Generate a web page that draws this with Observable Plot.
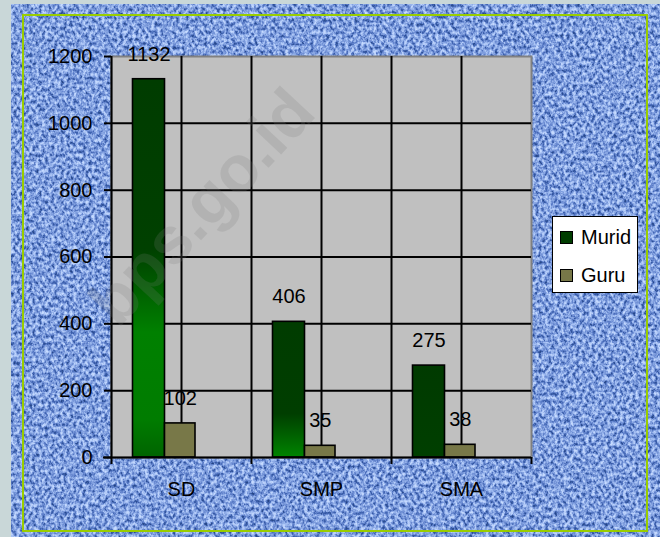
<!DOCTYPE html>
<html>
<head>
<meta charset="utf-8">
<script src="https://cdn.jsdelivr.net/npm/d3@7"></script>
<script src="https://cdn.jsdelivr.net/npm/@observablehq/plot@0.6"></script>
<style>
  html, body { margin: 0; padding: 0; background: #c9d7d8; }
  #wrap { position: relative; width: 660px; height: 537px; overflow: hidden; font-family: "Liberation Sans", Arial, sans-serif; }
  #bg { position: absolute; left: 11px; top: 4px; }
  #border { position: absolute; left: 22px; top: 14px; width: 622px; height: 514px; border: 2px solid #99cc00; }
  #chart { position: absolute; left: 0; top: 0; }
  #legend { position: absolute; left: 552px; top: 216px; width: 84px; height: 75px; background: #fff; border: 1.5px solid #000; }
  .row { position: absolute; left: 7px; display: flex; align-items: center; font-size: 20px; color: #000; }
  .sw { width: 11px; height: 11px; border: 1px solid #000; margin-right: 8px; }
  #wm { position: absolute; left: 0; top: 0; pointer-events: none; }
</style>
</head>
<body>
<div id="wrap">
  <svg id="bg" width="649" height="533">
    <filter id="denim" x="0" y="0" width="100%" height="100%" color-interpolation-filters="sRGB">
      <feTurbulence type="fractalNoise" baseFrequency="0.32 0.26" numOctaves="3" seed="7"/>
      <feColorMatrix type="matrix" values="1 0 0 0 0  1 0 0 0 0  1 0 0 0 0  0 0 0 0 1"/>
      <feComponentTransfer>
        <feFuncR type="table" tableValues="0.15 0.15 0.17 0.24 0.38 0.5 0.62 0.72 0.78 0.78 0.78"/>
        <feFuncG type="table" tableValues="0.27 0.27 0.3 0.38 0.51 0.62 0.73 0.81 0.86 0.86 0.86"/>
        <feFuncB type="table" tableValues="0.52 0.52 0.56 0.68 0.8 0.87 0.94 0.98 1 1 1"/>
      </feComponentTransfer>
    </filter>
    <rect width="100%" height="100%" fill="#7090cc" filter="url(#denim)"/>
  </svg>
  <div id="border"></div>
  <div id="chart"></div>
  <svg id="wm" width="660" height="537">
    <text x="218" y="222" transform="rotate(-47 218 222)" text-anchor="middle" font-family="Liberation Sans, Arial, sans-serif" font-weight="bold" font-size="66" fill="#7f7f7f" fill-opacity="0.2">bps.go.id</text>
  </svg>
  <div id="legend">
    <div class="row" style="top:9px;"><div class="sw" style="background:#003c00"></div>Murid</div>
    <div class="row" style="top:47px;"><div class="sw" style="background:#787848"></div>Guru</div>
  </div>
</div>
<script>
const categories = ["SD", "SMP", "SMA"];
const murid = [1132, 406, 275];
const guru = [102, 35, 38];
const yTicks = [0, 200, 400, 600, 800, 1000, 1200];

const W = 660, H = 537, mL = 111, mR = 129, mT = 56, mB = 80;
const bw = (W - mL - mR) / categories.length;

const rowsM = categories.map((c, i) => ({cat: c, value: murid[i]}));
const rowsG = categories.map((c, i) => ({cat: c, value: guru[i]}));

const plot = Plot.plot({
  width: W, height: H,
  marginLeft: mL, marginRight: mR, marginTop: mT, marginBottom: mB,
  style: {background: "transparent", fontFamily: "Liberation Sans, Arial, sans-serif", fontSize: "20px", color: "#000", overflow: "visible"},
  x: {domain: categories, padding: 0, label: null},
  y: {domain: [0, 1200], label: null},
  color: {domain: categories, range: categories.map(c => `url(#grad-${c})`)},
  marks: [
    Plot.frame({fill: "#c0c0c0", stroke: "#808080", strokeWidth: 2}),
    Plot.ruleY(yTicks.filter(v => v > 0 && v < 1200), {stroke: "#000", strokeWidth: 2}),
    Plot.ruleX(categories, {stroke: "#000", strokeWidth: 2}),
    Plot.ruleX(categories, {stroke: "#000", strokeWidth: 2, dx: -bw / 2}),
    Plot.barY(rowsM, {x: "cat", y: "value", fill: "cat", stroke: "#000", strokeWidth: 1.6, insetLeft: 21.5, insetRight: bw - 53.5}),
    Plot.barY(rowsG, {x: "cat", y: "value", fill: "#787848", stroke: "#000", strokeWidth: 1.6, insetLeft: 53.5, insetRight: bw - 84}),
    Plot.ruleY([0], {stroke: "#000", strokeWidth: 2, insetLeft: -8}),
    Plot.axisY({ticks: yTicks, tickSize: 7, tickPadding: 12, tickFormat: d => String(d), fontSize: 20, strokeWidth: 2}),
    Plot.axisX({tickSize: 0, tickPadding: 24, fontSize: 20}),
    Plot.axisX({tickSize: 7, tickFormat: () => "", dx: -bw / 2, strokeWidth: 2}),
    Plot.axisX({ticks: [categories[categories.length - 1]], tickSize: 7, tickFormat: () => "", dx: bw / 2, strokeWidth: 2}),
    Plot.text(rowsM, {x: "cat", y: "value", text: d => String(d.value), dx: 37.5 - bw / 2, dy: -25, fontSize: 20, fill: "#000"}),
    Plot.text(rowsG, {x: "cat", y: "value", text: d => String(d.value), dx: 68.75 - bw / 2, dy: -25, fontSize: 20, fill: "#000"})
  ]
});

const ns = "http://www.w3.org/2000/svg";
const defs = document.createElementNS(ns, "defs");
const grads = {
  SD: [[0, "#003c00"], [0.45, "#004000"], [0.67, "#008000"], [0.9, "#007c00"], [1, "#006400"]],
  SMP: [[0, "#003c00"], [0.68, "#003e00"], [1, "#008400"]],
  SMA: [[0, "#003a00"], [1, "#003f00"]]
};
for (const c of categories) {
  const g = document.createElementNS(ns, "linearGradient");
  g.setAttribute("id", `grad-${c}`);
  g.setAttribute("x1", "0"); g.setAttribute("y1", "0");
  g.setAttribute("x2", "0"); g.setAttribute("y2", "1");
  for (const [o, col] of grads[c]) {
    const s = document.createElementNS(ns, "stop");
    s.setAttribute("offset", o);
    s.setAttribute("stop-color", col);
    g.appendChild(s);
  }
  defs.appendChild(g);
}
plot.insertBefore(defs, plot.firstChild);
document.getElementById("chart").appendChild(plot);
</script>
</body>
</html>
